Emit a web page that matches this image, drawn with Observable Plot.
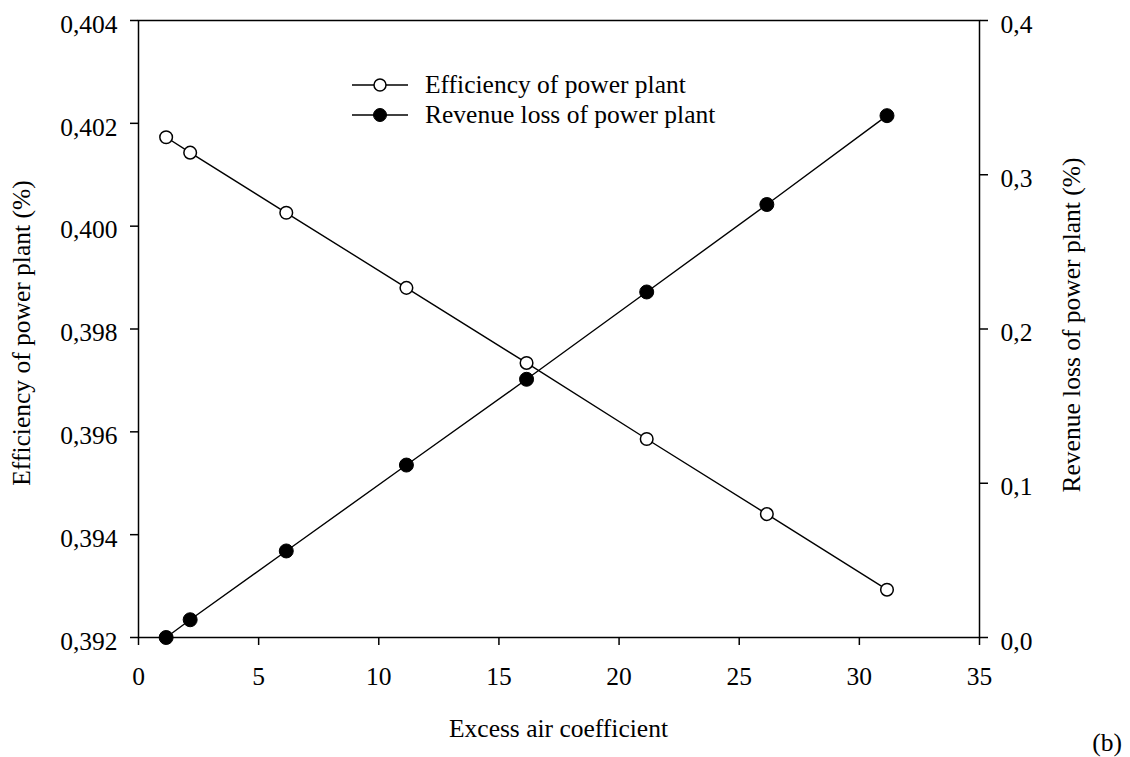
<!DOCTYPE html>
<html><head><meta charset="utf-8">
<script src="https://cdn.jsdelivr.net/npm/d3@7"></script>
<script src="https://cdn.jsdelivr.net/npm/@observablehq/plot@0.6"></script>
<style>
body{margin:0;background:#fff}
#chart{position:relative;width:1130px;height:757px}
#chart svg, #chart svg text{font-family:"Liberation Serif","Times New Roman",Times,"DejaVu Serif",serif !important;}
</style>
</head><body><div id="chart"></div>
<script>
const excessAir = [1.15, 2.15, 6.15, 11.15, 16.15, 21.15, 26.15, 31.15];
const efficiency = [0.40173, 0.40143, 0.40026, 0.39880, 0.39734, 0.39586, 0.39440, 0.39293];
const revenueLoss = [0.0, 0.0115, 0.0561, 0.1118, 0.1674, 0.2240, 0.2807, 0.3383];
const xTicks = [0, 5, 10, 15, 20, 25, 30, 35];
const leftTicks = [0.392, 0.394, 0.396, 0.398, 0.400, 0.402, 0.404];
const rightTicks = [0.0, 0.1, 0.2, 0.3, 0.4];
const seriesNames = ["Efficiency of power plant", "Revenue loss of power plant"];
const xTitle = "Excess air coefficient";
const leftTitle = "Efficiency of power plant (%)";
const rightTitle = "Revenue loss of power plant (%)";
const panelTag = "(b)";

const xDomain = [0, 35];
const leftDomain = [0.392, 0.404];
const rightDomain = [0, 0.4];
const toLeft = d3.scaleLinear().domain(rightDomain).range(leftDomain);

const rows = excessAir.map((x, i) => ({x, eff: efficiency[i], rev: revenueLoss[i]}));
const comma = (v, n) => v.toFixed(n).replace(".", ",");

const FS = 25.5;
const W = 1130, H = 757;
const mL = 138, mR = 151, mT = 20, mB = 120;
const font = "Liberation Serif, Times New Roman, serif";

const chart = Plot.plot({
  width: W, height: H,
  marginLeft: mL, marginRight: mR, marginTop: mT, marginBottom: mB,
  style: {fontFamily: font, fontSize: FS + "px", color: "black", background: "white", overflow: "visible"},
  x: {domain: xDomain},
  y: {domain: leftDomain},
  marks: [
    Plot.frame({stroke: "black", strokeWidth: 1.5}),
    Plot.axisX({ticks: xTicks, tickSize: 8, tickPadding: 21, tickFormat: d => String(d), label: null, fontSize: FS, strokeWidth: 1.5}),
    Plot.axisY({ticks: leftTicks, tickSize: 8, tickFormat: () => "", label: null, strokeWidth: 1.5}),
    Plot.axisY({ticks: leftTicks, tickSize: 0, tickPadding: 21, dy: 4, tickFormat: d => comma(d, 3), label: null, fontSize: FS}),
    Plot.axisY({anchor: "right", ticks: rightTicks.map(toLeft), tickSize: 8, tickFormat: () => "", label: null, strokeWidth: 1.5}),
    Plot.axisY({anchor: "right", ticks: rightTicks.map(toLeft), tickSize: 0, tickPadding: 21, dy: 4, tickFormat: d => comma(toLeft.invert(d), 1), label: null, fontSize: FS}),
    Plot.line(rows, {x: "x", y: d => toLeft(d.rev), stroke: "black", strokeWidth: 1.4}),
    Plot.dot(rows, {x: "x", y: d => toLeft(d.rev), r: 7, fill: "black", stroke: "black", strokeWidth: 1}),
    Plot.line(rows, {x: "x", y: "eff", stroke: "black", strokeWidth: 1.4}),
    Plot.dot(rows, {x: "x", y: "eff", r: 6.3, fill: "white", stroke: "black", strokeWidth: 1.5})
  ]
});

const svg = d3.select(chart);
const txt = (sel) => sel.attr("font-size", FS).attr("fill", "black");
// axis titles
txt(svg.append("text").attr("x", (mL + W - mR) / 2).attr("y", 737).attr("text-anchor", "middle")).text(xTitle);
txt(svg.append("text").attr("transform", `translate(30,333) rotate(-90)`).attr("text-anchor", "middle")).text(leftTitle);
txt(svg.append("text").attr("transform", `translate(1080,325) rotate(-90)`).attr("text-anchor", "middle")).text(rightTitle);
txt(svg.append("text").attr("x", 1122).attr("y", 751).attr("text-anchor", "end")).text(panelTag);

// legend
const leg = svg.append("g");
seriesNames.forEach((name, i) => {
  const cy = 85 + i * 30;
  leg.append("line").attr("x1", 352).attr("x2", 408).attr("y1", cy).attr("y2", cy).attr("stroke", "black").attr("stroke-width", 1.4);
  leg.append("circle").attr("cx", 380).attr("cy", cy).attr("r", i === 0 ? 6 : 6.5)
    .attr("fill", i === 0 ? "white" : "black").attr("stroke", "black").attr("stroke-width", i === 0 ? 1.5 : 1);
  txt(leg.append("text").attr("x", 425).attr("y", cy + 8).attr("text-anchor", "start")).text(name);
});

document.getElementById("chart").appendChild(chart);
</script>
</body></html>
